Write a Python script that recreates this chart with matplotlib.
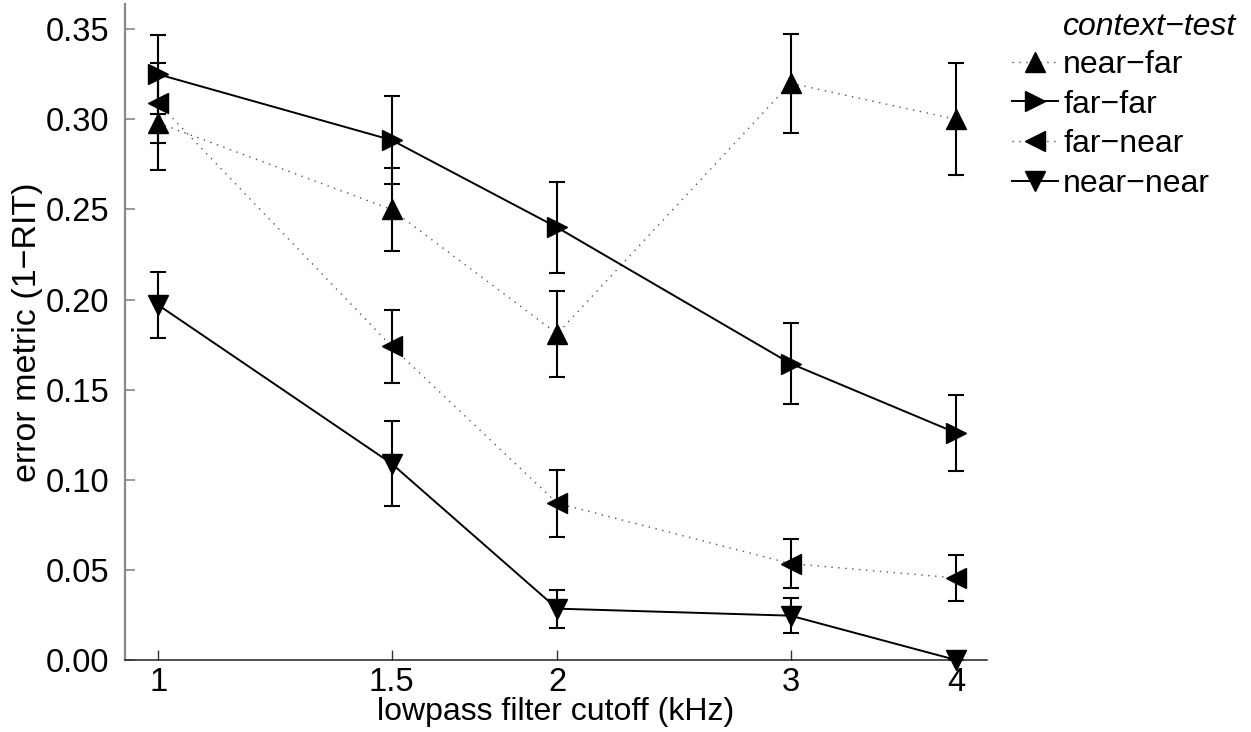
import numpy as np
import matplotlib
matplotlib.use('Agg')
import matplotlib.pyplot as plt
from matplotlib.lines import Line2D

plt.rcParams['font.family'] = ['Liberation Sans', 'DejaVu Sans']

# lowpass cutoff (kHz) and error metric per context-test condition
cutoff = [1, 1.5, 2, 3, 4]
cutoff_labels = ['1', '1.5', '2', '3', '4']

near_far = [0.298, 0.250, 0.181, 0.320, 0.300]
near_far_err = [0.026, 0.023, 0.024, 0.0275, 0.031]

far_far = [0.325, 0.2885, 0.240, 0.1645, 0.126]
far_far_err = [0.022, 0.0245, 0.025, 0.0225, 0.021]

far_near = [0.309, 0.174, 0.087, 0.0535, 0.0455]
far_near_err = [0.022, 0.0203, 0.0186, 0.0135, 0.0126]

near_near = [0.197, 0.109, 0.0285, 0.0246, 0.0]
near_near_err = [0.0185, 0.0235, 0.0105, 0.0098, 0.0]

series = [
    ('near\u2212far', near_far, near_far_err, '^', 'dotted'),
    ('far\u2212far', far_far, far_far_err, '>', 'solid'),
    ('far\u2212near', far_near, far_near_err, '<', 'dotted'),
    ('near\u2212near', near_near, near_near_err, 'v', 'solid'),
]

fig = plt.figure(figsize=(12.51, 7.32), dpi=100)
ax = fig.add_axes([125 / 1251, 1 - 660 / 732, (987 - 125) / 1251, (660 - 4) / 732])

handles = []
for name, vals, errs, mk, ls in series:
    if ls == 'dotted':
        lstyle = (0, (1, 4))
        lcol = '#555555'
        lw = 1.0
    else:
        lstyle = '-'
        lcol = 'black'
        lw = 1.4
    ax.errorbar(cutoff, vals, yerr=errs, fmt='none', ecolor='black',
                elinewidth=1.5, capsize=6, capthick=1.5, zorder=2)
    ax.plot(cutoff, vals, linestyle=lstyle, color=lcol, lw=lw, zorder=3)
    ax.plot(cutoff, vals, linestyle='none', marker=mk, ms=15, color='black',
            clip_on=False, zorder=4)
    handles.append(Line2D([], [], linestyle=lstyle, color=lcol, lw=lw,
                          marker=mk, ms=14, markerfacecolor='black',
                          markeredgecolor='black'))

ax.set_xscale('log')
ax.set_xlim(0.944, 4.22)
ax.set_ylim(0, 0.364)
ax.set_xticks(cutoff)
ax.set_xticklabels(cutoff_labels)
ax.xaxis.set_minor_locator(matplotlib.ticker.NullLocator())
ax.set_yticks(np.arange(0, 0.36, 0.05))
ax.set_yticklabels(['%.2f' % v for v in np.arange(0, 0.36, 0.05)])

ax.spines['top'].set_visible(False)
ax.spines['right'].set_visible(False)
ax.spines['left'].set_color('#888888')
ax.spines['left'].set_linewidth(1.6)
ax.spines['bottom'].set_color('#222222')
ax.spines['bottom'].set_linewidth(1.1)

ax.tick_params(axis='y', direction='in', length=7, width=1.2, color='#888888',
               labelsize=23.5, pad=11)
ax.tick_params(axis='x', direction='in', length=7, width=1.0, color='#333333',
               labelsize=23.5, pad=5)

ax.set_xlabel('lowpass filter cutoff (kHz)', fontsize=23, labelpad=-1)
ax.set_ylabel('error metric (1\u2212RIT)', fontsize=24.5, labelpad=2)

fig.text(1063 / 1251, 1 - 27 / 732, 'context\u2212test', fontsize=23,
         style='italic', ha='left', va='center')
fig.legend(handles, [s[0] for s in series], loc='upper left',
           bbox_to_anchor=(1012 / 1251, 1 - 50 / 732), frameon=False,
           fontsize=23, handlelength=1.45, handletextpad=0.15,
           labelspacing=0.3, borderpad=0, borderaxespad=0, numpoints=1)

plt.savefig('out.png', dpi=100)
